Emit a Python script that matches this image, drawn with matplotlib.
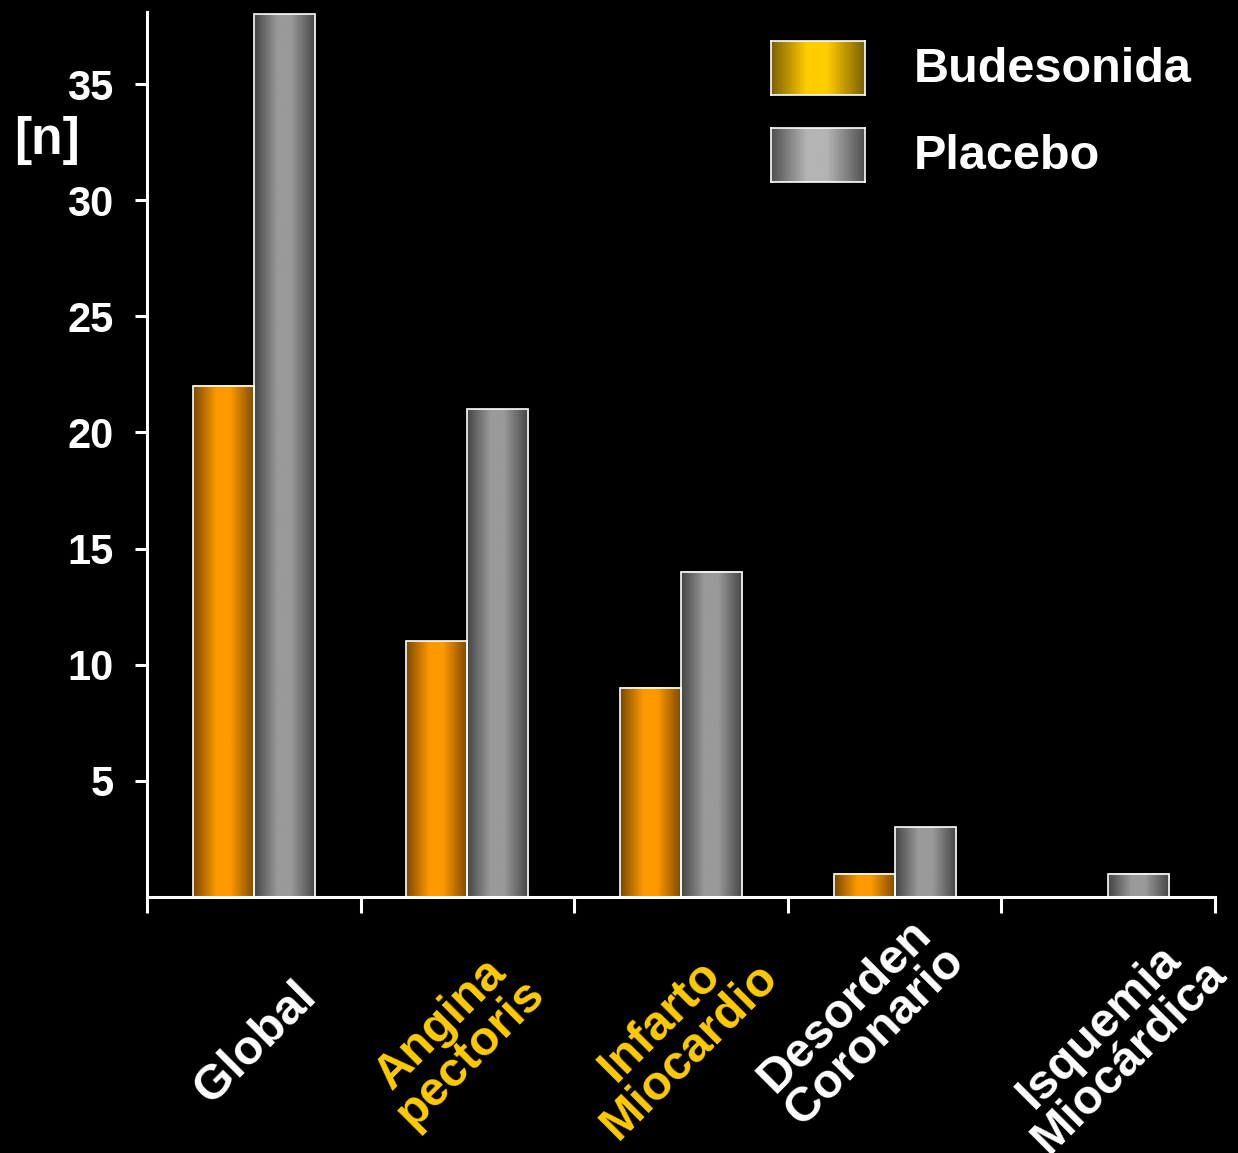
import numpy as np
import matplotlib
matplotlib.use("Agg")
import matplotlib.pyplot as plt
from matplotlib.colors import LinearSegmentedColormap
from matplotlib.transforms import blended_transform_factory

plt.rcParams['font.family'] = ['Liberation Sans', 'DejaVu Sans']
plt.rcParams['font.weight'] = 'bold'

categories = ["Global", "Angina\npectoris", "Infarto\nMiocardio", "Desorden\nCoronario", "Isquemia\nMiocárdica"]
label_colors = ["white", "#FFCC00", "#FFCC00", "white", "white"]
budesonida = [22, 11, 9, 1, 0]
placebo = [38, 21, 14, 3, 1]
series_names = ["Budesonida", "Placebo"]
yticks = [5, 10, 15, 20, 25, 30, 35]

# cilindro: oscuro en los bordes, claro al centro
def shade(dark, light):
    return LinearSegmentedColormap.from_list(
        "s", [(0, dark), (0.38, light), (0.6, light), (1, dark)])

cm_orange = shade("#7a4800", "#FF9900")
cm_gray = shade("#444444", "#9a9a9a")
cm_gold = shade("#7a6000", "#FFCC00")
cm_lgray = shade("#505050", "#b4b4b4")
grad = np.linspace(0, 1, 256).reshape(1, -1)

fig = plt.figure(figsize=(12.38, 11.53), dpi=100, facecolor="black")
ax = fig.add_axes([147/1238, 1 - 897/1153, (1215-147)/1238, (897-12)/1153])
ax.set_facecolor("black")

w = 0.286
x = np.arange(len(categories)) + 0.5

def gradient_bars(xs, vals, cmap):
    for xi, v in zip(xs, vals):
        if v <= 0:
            continue
        ax.imshow(grad, cmap=cmap, aspect="auto", extent=(xi, xi + w, 0, v),
                  zorder=2, interpolation="bilinear")
        ax.bar(xi, v, w, align="edge", facecolor="none", edgecolor="white",
               linewidth=1.2, zorder=3)

gradient_bars(x - w, budesonida, cm_orange)
gradient_bars(x, placebo, cm_gray)

ax.set_xlim(0, 5)
ax.set_ylim(0, 38.1)
ax.set_xticks(np.arange(0, 6))
ax.set_xticklabels([])
ax.set_yticks(yticks)
ax.set_yticklabels([str(t) for t in yticks], fontsize=30, fontweight="bold", color="white")
ax.tick_params(axis="y", direction="out", length=9, width=2.2, color="white", pad=15)
ax.tick_params(axis="x", direction="out", length=11.5, width=2.2, color="white")
for s in ["top", "right"]:
    ax.spines[s].set_visible(False)
for s in ["left", "bottom"]:
    ax.spines[s].set_color("white")
    ax.spines[s].set_linewidth(2.2)

# etiquetas de categoría giradas
trans = blended_transform_factory(ax.transData, ax.transAxes)
label_dx = [0.01, -0.055, -0.026, -0.16, 0.03]
label_dy = [-0.165, -0.16, -0.157, -0.14, -0.163]
for xi, lab, col, dx, dy in zip(x, categories, label_colors, label_dx, label_dy):
    ax.text(xi + dx, dy, lab, transform=trans, rotation=45, ha="center", va="center",
            multialignment="center", fontsize=35, fontweight="bold", color=col,
            linespacing=0.92, clip_on=False)

fig.text(14/1238, 1 - 140/1153, "[n]", fontsize=37, fontweight="bold", color="white",
         ha="left", va="center")

# leyenda
for i, (name, cm) in enumerate(zip(series_names, [cm_gold, cm_lgray])):
    top = 41 + i * 87
    lax = fig.add_axes([771/1238, 1 - (top + 54)/1153, 94/1238, 54/1153])
    lax.imshow(grad, cmap=cm, aspect="auto", interpolation="bilinear")
    lax.set_xticks([])
    lax.set_yticks([])
    for sp in lax.spines.values():
        sp.set_color("white")
        sp.set_linewidth(1.2)
    fig.text(914/1238, 1 - (top + 29)/1153, name, fontsize=35, fontweight="bold",
             color="white", ha="left", va="center")

fig.savefig("out.png", dpi=100, facecolor="black")
